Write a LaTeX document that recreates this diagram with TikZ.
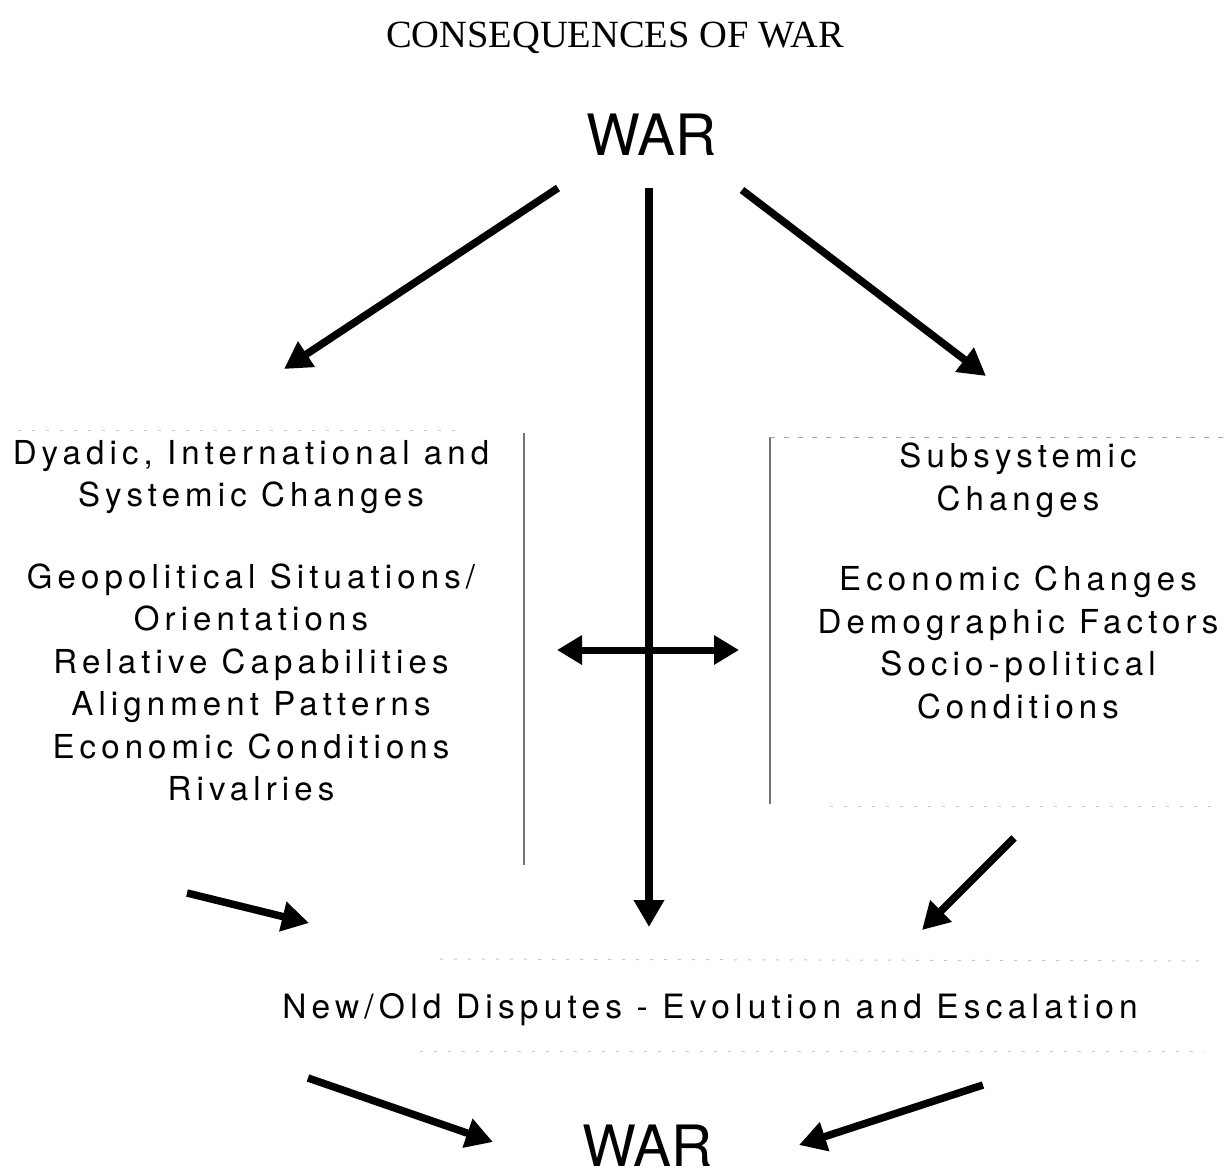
\documentclass[tikz,border=0pt]{standalone}
\usepackage{fontspec}
\usetikzlibrary{arrows.meta}
\newfontfamily\labelfont[LetterSpace=15.5]{TeX Gyre Heros}
\newfontfamily\warfont{TeX Gyre Heros}
\newfontfamily\titlefont{Liberation Serif}
\begin{document}
\begin{tikzpicture}[x=1pt,y=-1pt,
  arr/.style={line width=7.5pt,-{Triangle[length=27pt,width=29pt]}},
  dblarr/.style={line width=7pt,{Triangle[length=25pt,width=28pt]}-{Triangle[length=25pt,width=28pt]}},
  block/.style={font=\labelfont\fontsize{33}{42.5}\selectfont,align=center,inner sep=0pt},
  warlabel/.style={font=\warfont\fontsize{57}{60}\selectfont,inner sep=0pt,anchor=base},
  rule/.style={draw=black!55,line width=1.3pt},
  faint/.style={draw=black!35,line width=1pt,dash pattern=on 5pt off 9pt},
  fainter/.style={draw=black!22,line width=1pt,dash pattern=on 3pt off 11pt}]
\useasboundingbox[fill=white] (0,0) rectangle (1227,1175);

% texts
\node[anchor=base,inner sep=0pt,font=\titlefont\fontsize{38.5}{40}\selectfont] (title) at (615,47) {CONSEQUENCES OF WAR};
\node[warlabel] (wartop) at (652,155) {WAR};
\node[warlabel] (warbot) at (648,1166) {WAR};
\node[block,anchor=north] (left) at (251,440) {Dyadic, International and\\Systemic Changes\\[39pt]Geopolitical Situations/\\Orientations\\Relative Capabilities\\Alignment Patterns\\Economic Conditions\\Rivalries};
\node[block,anchor=north] (right) at (1018,443) {Subsystemic\\Changes\\[38pt]Economic Changes\\Demographic Factors\\Socio-political\\Conditions};
\node[block,anchor=base,font=\labelfont\fontsize{33.5}{42.5}\selectfont] (disputes) at (710,1018) {New/Old Disputes - Evolution and Escalation};

% frame remnants
\coordinate (lv1) at (524,433); \coordinate (lv2) at (524,865);
\coordinate (rv1) at (770,437); \coordinate (rv2) at (770,804);
\coordinate (rt2) at (1227,437);
\coordinate (lt1) at (18,430); \coordinate (lt2) at (455,430);
\coordinate (rb1) at (830,806); \coordinate (rb2) at (1222,806);
\coordinate (dt1) at (440,959); \coordinate (dt2) at (1205,961);
\coordinate (db1) at (420,1051); \coordinate (db2) at (1205,1051);
\draw[rule] (lv1) -- (lv2);
\draw[rule] (rv2) -- (rv1);
\draw[faint] (rv1) -- (rt2);
\draw[fainter] (lt1) -- (lt2);
\draw[fainter] (rb1) -- (rb2);
\draw[fainter] (dt1) -- (dt2);
\draw[fainter] (db1) -- (db2);

% arrows
\coordinate (a1s) at (558,188); \coordinate (a1e) at (284,369);
\coordinate (a2s) at (649,188); \coordinate (a2e) at (649,927);
\coordinate (a3s) at (742,190); \coordinate (a3e) at (986,376);
\coordinate (d1) at (557,650); \coordinate (d2) at (739,650);
\coordinate (a5s) at (187,893); \coordinate (a5e) at (309,923);
\coordinate (a6s) at (1014,838); \coordinate (a6e) at (922,930);
\coordinate (a7s) at (308,1078); \coordinate (a7e) at (493,1142);
\coordinate (a8s) at (983,1085); \coordinate (a8e) at (799,1145);
\draw[arr] (a1s) -- (a1e);
\draw[arr] (a2s) -- (a2e);
\draw[arr] (a3s) -- (a3e);
\draw[dblarr] (d1) -- (d2);
\draw[arr] (a5s) -- (a5e);
\draw[arr] (a6s) -- (a6e);
\draw[arr] (a7s) -- (a7e);
\draw[arr] (a8s) -- (a8e);
\end{tikzpicture}
\end{document}
